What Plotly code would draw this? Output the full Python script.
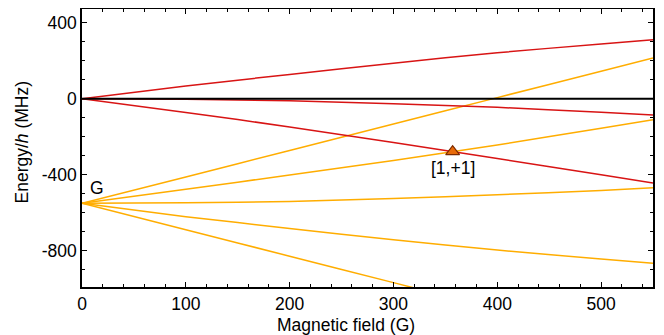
import plotly.graph_objects as go

# Magnetic field sample points (G)
field = [0, 100, 200, 300, 400, 500, 550]

# Upper manifold (red), starting at 0 MHz
red_upper = [0, 67, 128, 187, 242, 288, 310]
red_mid = [0, -3, -11, -26, -45, -71, -86]
red_lower = [0, -72, -148, -230, -314, -400, -443]
black_flat = [0, 0, 0, 0, 0, 0, 0]

# Lower manifold (orange), starting at -550 MHz
orange_steep_up = [-550, -411, -272, -133, 6, 145, 214]
orange_up = [-550, -476, -401, -325, -243, -155, -110]
orange_flat = [-550, -547, -540, -525, -505, -482, -468]
orange_down = [-550, -620, -682, -742, -796, -843, -865]
field_steep_down = [0, 100, 200, 300, 320]
orange_steep_down = [-550, -689, -828, -967, -995]

# Marked crossing
marker_x = [357]
marker_y = [-278]
marker_label = "[1,+1]"

RED = "#d81414"
ORANGE = "#ffad00"

fig = go.Figure()

def add_line(x, y, color, width=1.5):
    fig.add_trace(go.Scatter(x=x, y=y, mode="lines",
                             line=dict(color=color, width=width, shape="spline", smoothing=0.6),
                             showlegend=False, hoverinfo="skip"))

for ys in [orange_steep_up, orange_up, orange_flat, orange_down]:
    add_line(field, ys, ORANGE)
add_line(field_steep_down, orange_steep_down, ORANGE)
for ys in [red_upper, red_mid, red_lower]:
    add_line(field, ys, RED)
add_line(field, black_flat, "#000000", width=2)

fig.add_trace(go.Scatter(x=marker_x, y=marker_y, mode="markers",
                         marker=dict(symbol="triangle-up", size=12, color="#e86a08",
                                     line=dict(color="#7a2a00", width=1.2)),
                         showlegend=False, hoverinfo="skip"))

font_family = "Liberation Sans, Arial, sans-serif"

# page body has an 8px margin; compensate
W, H = 656, 327
L, R, T, B = 74, 10.5, 0.5, 48
PW = W - L - R
PH = H - T - B

fig.add_annotation(x=marker_x[0], y=-365, text=marker_label, showarrow=False,
                   font=dict(size=17.5, color="#000"), xref="x", yref="y")
fig.add_annotation(x=14, y=-470, text="G", showarrow=False,
                   font=dict(size=17.5, color="#000"), xref="x", yref="y")

fig.add_annotation(x=(346 - 82) / PW, y=-(325 - 287) / PH, xref="paper", yref="paper",
                   text="Magnetic field (G)", showarrow=False,
                   font=dict(size=17.5, color="#000"), xanchor="center", yanchor="middle")
fig.add_annotation(x=(22 - 82) / PW, y=0.52, xref="paper", yref="paper",
                   text="Energy/<i>h</i> (MHz)", showarrow=False, textangle=-90,
                   font=dict(size=17.5, color="#000"), xanchor="center", yanchor="middle")

axis_common = dict(showline=True, linecolor="#000", linewidth=1.5, mirror="ticks",
                   ticks="inside", ticklen=5, tickwidth=1, tickcolor="#000",
                   showgrid=False, zeroline=False,
                   tickfont=dict(size=17.5, color="#000"))

fig.update_xaxes(range=[0, 550], tickvals=[0, 100, 200, 300, 400, 500],
                 minor=dict(dtick=20, ticks="inside", ticklen=3, tickcolor="#000", showgrid=False),
                 **axis_common)
fig.update_yaxes(range=[-990, 472], tickvals=[-800, -400, 0, 400],
                 ticktext=["-800", "-400", "0", "400"],
                 minor=dict(dtick=100, ticks="inside", ticklen=3, tickcolor="#000", showgrid=False),
                 **axis_common)

fig.update_layout(width=W, height=H,
                  margin=dict(l=L, r=R, t=T, b=B, autoexpand=False),
                  paper_bgcolor="white", plot_bgcolor="white",
                  font=dict(family=font_family, color="#000"))

fig.write_html("out.html")
